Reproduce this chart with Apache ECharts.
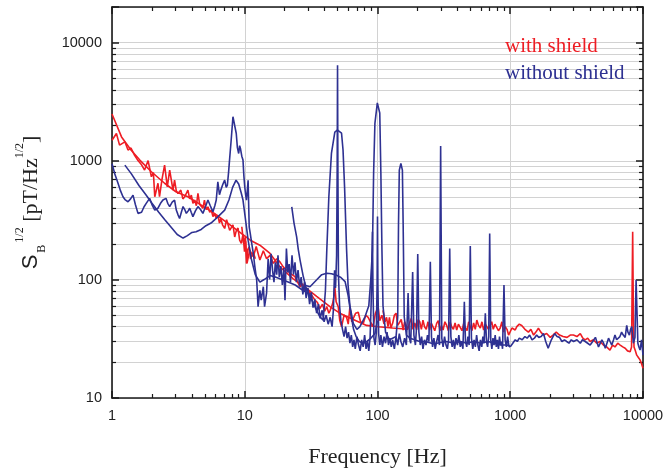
<!DOCTYPE html>
<html>
<head>
<meta charset="utf-8">
<script src="https://cdn.jsdelivr.net/npm/echarts@6/dist/echarts.min.js"></script>
<style>html,body{margin:0;padding:0;background:#fff}#c{width:663px;height:471px}</style>
</head>
<body>
<div id="c"></div>
<script>
// ---- data: [frequency Hz, S_B^1/2 pT/Hz^1/2] ----
const xTickLabels = [1, 10, 100, 1000, 10000];
const yTickLabels = [10, 100, 1000, 10000];
const legendNames = ['with shield', 'without shield'];

const redSmooth = [[1,2500],[1.18,1600],[1.39,1240],[1.62,1020],[1.98,813],[2.49,650],[3.03,551],[3.73,500],[4.71,425],[5.9,362],[7.48,298],[9.42,245],[11,215],[13,195],[15.5,166],[18.4,128],[23.1,102],[29.3,84],[34.8,72],[43.8,59],[52,52],[65.7,46],[82.7,41],[101,40],[130,39],[170,38]];

const redLow = [[1,1500],[1.08,1710],[1.14,1365],[1.25,1455],[1.32,1240],[1.39,1290],[1.48,1120],[1.57,1010],[1.67,930],[1.76,840],[1.87,1010],[1.98,738],[2.05,800],[2.1,500],[2.22,650],[2.28,500],[2.38,700],[2.49,925],[2.61,607],[2.72,840],[2.88,569],[2.96,690],[3.05,560],[3.14,533],[3.3,569],[3.42,480],[3.53,500],[3.73,569],[3.85,480],[3.96,516],[4.07,440],[4.19,469],[4.32,420],[4.44,533],[4.58,430],[4.71,440],[4.84,400],[4.97,469],[5.12,390],[5.28,411],[5.45,370],[5.6,386],[5.76,340],[5.9,362],[6.1,330],[6.27,350],[6.45,300],[6.6,328],[6.8,290],[7.06,270],[7.3,320],[7.5,310],[7.7,260],[7.9,253],[8.15,290],[8.4,229],[8.65,260],[8.9,272],[9.15,215],[9.42,202],[9.7,240],[9.96,172],[10.15,210],[10.3,137],[10.55,180],[10.8,189],[11.05,150],[11.3,146],[11.6,170],[12,150]];

const redMid = [[9.5,279],[9.8,203],[10.1,229],[10.4,137],[10.9,177],[11.6,156],[12.2,190],[13,146],[13.8,175],[14.6,150],[15.5,160],[16.4,137],[17.4,150],[18.4,141],[19.5,128],[20.6,120],[22.2,112],[23.9,106],[25,95],[26.1,87],[27.3,92],[28.5,79],[29.7,84],[31,77],[32.4,72],[33.8,67],[35.3,64],[36.8,57],[38.5,62],[40,54],[41.5,59],[43,52],[44,55],[45.8,62],[46.8,70],[47.7,87],[48.8,65],[50.6,59],[52,45],[53.6,40],[56,50],[58.5,48],[60.2,42],[62,59],[64,44],[66,45.5],[68.5,52],[71.6,53],[74.5,44],[78.2,42.7],[81.5,50],[85,48],[88.5,44],[92.7,40],[96.5,52],[101,59],[104,45],[108,50],[112,42]];

const redHigh = [[110,55],[114,44],[117,48],[120,40],[123,48],[126,39],[130,42.7],[134,50],[138,52],[142,41],[146,40],[151,46],[156,37.5],[160,44],[165,45],[169,38],[174,42.7],[180,47],[185,38],[191,43],[197,37.5],[202,46],[208,44],[214,38],[220,45.5],[226,40],[233,38],[240,44],[247,37.5],[254,43],[262,42],[270,37],[279,42.7],[287,45],[295,37],[303,41],[312,37.5],[322,44],[332,41],[342,37],[352,44],[362,40],[373,38],[384,43],[395,37.5],[407,42],[420,41],[433,37],[446,42.7],[460,39],[473,37],[486,44],[500,40],[515,37],[530,43],[545,38],[560,45.5],[577,41],[595,39],[612,44],[630,37.5],[649,42],[668,42],[686,38],[705,41],[725,44],[745,38],[767,42],[790,42.7],[815,37],[840,39],[865,44],[890,36],[917,40],[945,38],[972,34],[1000,35],[1030,39],[1055,38],[1090,37.5],[1120,40],[1170,42],[1220,41],[1290,38],[1370,36],[1430,38],[1500,34],[1560,36],[1630,38.8],[1700,36],[1780,34],[1880,35],[2000,32.5],[2100,34],[2220,36],[2350,34],[2500,33],[2680,32.5],[2830,34],[2990,34],[3180,33],[3370,35],[3520,32],[3670,31],[3830,32],[4000,30],[4230,31],[4480,29],[4750,30],[5030,28],[5320,27],[5640,25.4],[5900,28],[6150,27],[6450,29],[6730,28],[7040,27],[7340,26.3],[7650,25],[8000,24.6],[8200,27],[8360,253],[8480,40],[8560,27],[8760,25],[8970,23],[9230,22],[9500,21],[9750,19.5],[10000,17.8]];

const blueLow = [[1,950],[1.05,780],[1.11,650],[1.16,560],[1.21,500],[1.26,470],[1.32,454],[1.38,480],[1.44,516],[1.5,430],[1.57,362],[1.62,350],[1.67,370],[1.74,410],[1.81,440],[1.92,485],[2,430],[2.1,386],[2.22,400],[2.32,440],[2.42,469],[2.55,485],[2.63,440],[2.72,413],[2.84,450],[2.96,469],[3.05,386],[3.15,350],[3.23,328],[3.33,370],[3.43,413],[3.53,390],[3.63,362],[3.75,380],[3.85,400],[3.95,370],[4.07,340],[4.25,380],[4.44,413],[4.64,390],[4.84,362],[5.05,410],[5.28,469],[5.5,420],[5.76,373],[5.95,420],[6.1,469],[6.27,668],[6.45,520],[6.6,569],[6.85,640],[7.06,690],[7.25,600],[7.4,628],[7.55,800],[7.68,1020],[7.9,1500],[8.15,2370],[8.4,2450],[8.63,1710],[8.8,1300],[9,1160],[9.15,1350],[9.3,1265],[9.5,1100],[9.7,1020],[9.85,750],[10,607],[10.15,520],[10.3,469],[10.45,560],[10.6,690],[10.8,279],[11,245],[11.3,200],[11.6,166],[11.9,130],[12.3,99],[12.6,59],[13,81],[13.3,67],[13.8,87],[14.1,59],[14.6,77]];

const blueMid = [[14.6,77],[15,150],[15.4,100],[15.8,165],[16.2,120],[16.6,95],[17,140],[17.4,110],[17.8,160],[18.2,105],[18.7,130],[19.2,90],[19.7,125],[20.1,67],[20.6,183],[21.1,115],[21.6,135],[22.1,95],[22.7,160],[23.3,110],[23.9,140],[24.5,95],[25.2,120],[25.9,88],[26.6,105],[27.4,75],[28.2,95],[29,70],[29.9,85],[30.8,62],[31.7,78],[32.7,58],[33.7,68],[34.8,52],[35.9,62],[37,47],[38.3,55],[39.6,44],[41,50],[42.5,42],[44,48],[45.5,40],[46.5,55],[47.5,120],[48.3,85],[49.2,160],[49.7,900],[50,6460],[50.3,900],[50.8,110],[51.8,60],[53,45],[54.5,38],[56,33],[57.5,40],[59,32],[60.5,36],[62,29],[63.5,34],[65,27],[66.5,31],[68,26],[70,33],[72,28],[74,25],[76,31],[78,27],[80,34],[82,26],[84,30],[86,25],[88,33],[89.5,60],[90.5,120],[91.6,253],[92.5,80],[94,32],[96,28],[98,36],[99.3,90],[100,340],[100.7,90],[102,35],[104,28]];

const blueHigh = [[104,28],[106,34],[109,27],[112,33],[115,29],[118,36],[121,28],[124,32],[127,27],[130,31],[134,26],[138,33],[142,28],[146,35],[150,30],[155,27],[160,32],[165,28],[170,77],[174,32],[178,29],[184,116],[188,34],[193,28],[197,40],[201,164],[205,36],[210,28],[215,33],[220,26],[226,31],[232,28],[238,34],[244,30],[250,141],[255,33],[260,27],[266,32],[272,26],[279,30],[286,34],[293,28],[299,1340],[305,32],[312,27],[320,33],[328,28],[336,26],[343,31],[350,183],[357,33],[365,27],[373,31],[381,26],[390,32],[400,28],[410,34],[420,27],[430,30],[440,26],[451,65],[460,30],[470,27],[480,33],[490,28],[500,192],[510,32],[522,26],[534,31],[546,27],[558,34],[570,28],[583,25],[596,31],[610,27],[622,33],[635,29],[649,52],[662,30],[675,27],[688,33],[700,245],[713,31],[727,26],[741,32],[755,28],[770,34],[785,27],[800,31],[815,26],[830,33],[845,28],[860,30],[875,26],[897,90],[915,31],[935,27],[955,33],[975,28],[1000,27]];

const blueTop = [[1000,27],[1045,29],[1090,31],[1130,30],[1170,32],[1230,31],[1290,33],[1340,32],[1400,34],[1460,31],[1520,32],[1580,34],[1640,32.5],[1710,33],[1780,35],[1850,30],[1930,26.3],[2040,31],[2100,33],[2160,35],[2250,33],[2350,32.5],[2450,30],[2560,31],[2660,30],[2770,29],[2880,31],[3000,30],[3180,31],[3370,29],[3500,31],[3670,30],[3830,29],[4000,28],[4180,30],[4380,32.5],[4620,27],[4900,31],[5050,29],[5200,26.3],[5350,29],[5500,32],[5650,30],[5820,28],[6000,31],[6150,34],[6330,31],[6520,30],[6700,33],[6900,36],[7100,34],[7340,32.5],[7540,41],[7700,36],[7900,34],[8060,38],[8230,40],[8350,34],[8470,29],[8600,31],[8700,32.5],[8870,99],[9050,99],[9150,29],[9320,27],[9500,25.4],[9750,31],[10000,23]];

const blueSmoothLow = [[1.25,925],[1.4,780],[1.6,620],[1.8,520],[2,440],[2.25,370],[2.5,320],[2.8,275],[3.1,240],[3.43,224],[3.7,235],[4,250],[4.3,253],[4.7,265],[5.1,285],[5.57,300],[6.3,340],[7.06,386],[7.6,470],[8.1,600],[8.6,690],[9,640],[9.4,540],[9.7,469],[10.1,330],[10.6,215],[11.2,150],[12,110],[13,95],[14,100],[15.5,108],[17,105],[19,100],[21,96],[24,90],[27,82],[31,75]];

const blueSmoothHigh = [[22.6,411],[23.5,300],[24.6,229],[25.3,180],[26.1,146],[27.6,106],[29.3,81],[32,67],[34.8,55],[36.8,48.5],[39,45.5],[40.5,80],[41.5,178],[43,500],[45,1170],[47.7,1760],[50,1830],[53.6,1720],[55,1240],[56.5,600],[58.5,178],[60,90],[62,60],[65.7,42.7],[70,38],[73.7,40],[80.5,48.5],[86,60],[89,100],[91.6,178],[93.5,800],[95.6,2080],[99.7,3100],[104,2550],[106,800],[108,178],[110,60],[115,36],[123,31],[130,32],[138,33],[142,48.5],[144,300],[146,840],[150,955],[154,840],[156,300],[159,48.5],[165,34],[176,32],[190,31],[208,30],[230,30],[255,29],[280,29],[330,30],[380,29],[420,30],[470,29],[530,30],[600,29],[680,30],[760,29],[850,28],[950,28],[1000,27]];

const blueHump = [[28,90],[31,87],[35,100],[38,110],[41.5,113],[45,112],[49,109],[53,104],[57,96],[60,74],[63.5,48.5],[66,38],[69,33],[73,30],[78,29],[83,30],[88,31.5],[95.6,35],[100,45]];

// ---- chart ----
const RED = '#ee1d24', BLUE = '#2e3192';
const AX = '#1a1a1a', GRID = '#d2d2d2';
const chart = echarts.init(document.getElementById('c'), null, {renderer: 'canvas'});

function lineSeries(name, data, color) {
  return {name: name, type: 'line', data: data, showSymbol: false, symbol: 'none',
    xAxisIndex: 0, yAxisIndex: 0, lineStyle: {color: color, width: 1.6}, itemStyle: {color: color},
    silent: true, animation: false};
}

const baseAxis = {
  type: 'log', logBase: 10, interval: 1,
  axisLine: {show: true, onZero: false, lineStyle: {color: AX, width: 1.6}},
  axisTick: {show: true, inside: true, length: 7, lineStyle: {color: AX, width: 1.5}},
  minorTick: {show: true, splitNumber: 9, length: 4, lineStyle: {color: AX, width: 1.2}}
};

const option = {
  animation: false,
  backgroundColor: '#fff',
  grid: {left: 112, right: 20, top: 7, bottom: 73, containLabel: false, outerBoundsMode: 'none'},
  legend: {
    left: 495, top: 31, orient: 'vertical', icon: 'none', itemWidth: 0, itemHeight: 10, itemGap: 6,
    selectedMode: false,
    textStyle: {fontFamily: 'Liberation Serif', fontSize: 21},
    data: [{name: legendNames[0], textStyle: {color: RED}}, {name: legendNames[1], textStyle: {color: BLUE}}]
  },
  xAxis: [
    Object.assign({}, baseAxis, {
      position: 'bottom', min: 1, max: 10000,
      axisLabel: {fontFamily: 'Liberation Sans', fontSize: 14.5, color: '#222', margin: 10,
        formatter: v => xTickLabels.includes(v) ? String(v) : ''},
      splitLine: {show: true, lineStyle: {color: GRID, width: 1}},
      name: 'Frequency [Hz]', nameLocation: 'middle', nameGap: 48,
      nameTextStyle: {fontFamily: 'Liberation Serif', fontSize: 22, color: '#222'}
    }),
    Object.assign({}, baseAxis, {
      position: 'top', min: 1, max: 10000,
      axisLabel: {show: false}, splitLine: {show: false}
    })
  ],
  yAxis: [
    Object.assign({}, baseAxis, {
      position: 'left', min: 10, max: 20000,
      axisLabel: {fontFamily: 'Liberation Sans', fontSize: 14.5, color: '#222', margin: 10,
        formatter: v => yTickLabels.includes(v) ? String(v) : ''},
      splitLine: {show: true, lineStyle: {color: GRID, width: 1}},
      minorSplitLine: {show: true, lineStyle: {color: GRID, width: 1}},
      name: '{s|S}{b|B}{sup|1/2}{n| [pT/Hz}{sup2|1/2}{n|]}',
      nameLocation: 'middle', nameGap: 64,
      nameTextStyle: {
        color: '#222',
        rich: {
          s: {fontFamily: 'Liberation Sans', fontSize: 22, lineHeight: 34, color: '#222'},
          b: {fontFamily: 'Liberation Serif', fontSize: 12, lineHeight: 14, verticalAlign: 'bottom', color: '#222', padding: [0, 0, 0, 2]},
          sup: {fontFamily: 'Liberation Serif', fontSize: 12, lineHeight: 14, verticalAlign: 'top', color: '#222', padding: [0, 0, 0, 2]},
          n: {fontFamily: 'Liberation Serif', fontSize: 22, lineHeight: 34, color: '#222'},
          sup2: {fontFamily: 'Liberation Serif', fontSize: 12, lineHeight: 14, verticalAlign: 'top', color: '#222'}
        }
      }
    }),
    Object.assign({}, baseAxis, {
      position: 'right', min: 10, max: 20000,
      axisLabel: {show: false}, splitLine: {show: false}
    })
  ],
  series: [
    lineSeries(legendNames[0], redSmooth, RED),
    lineSeries(legendNames[0], redLow, RED),
    lineSeries(legendNames[0], redMid, RED),
    lineSeries(legendNames[0], redHigh, RED),
    lineSeries(legendNames[1], blueSmoothLow, BLUE),
    lineSeries(legendNames[1], blueSmoothHigh, BLUE),
    lineSeries(legendNames[1], blueHump, BLUE),
    lineSeries(legendNames[1], blueLow, BLUE),
    lineSeries(legendNames[1], blueMid, BLUE),
    lineSeries(legendNames[1], blueHigh, BLUE),
    lineSeries(legendNames[1], blueTop, BLUE)
  ]
};
chart.setOption(option);
</script>
</body>
</html>
